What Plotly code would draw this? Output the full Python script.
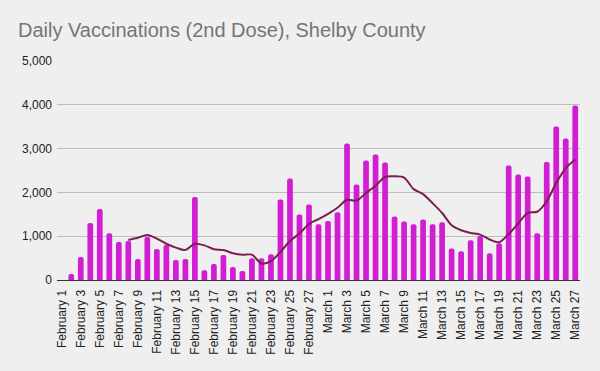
import plotly.graph_objects as go

# Categories (days)
dates = [f"February {d}" for d in range(1, 29)] + [f"March {d}" for d in range(1, 28)]

# Daily 2nd-dose vaccinations (Feb 1 has no bar)
daily_doses = [
    None, 137, 525, 1300, 1620, 1065, 867, 890, 479, 981,
    707, 798, 456, 479, 1894, 221, 365, 570, 297, 205,
    494, 494, 586, 1840, 2319, 1498, 1726, 1270,
    1346, 1544, 3118, 2183, 2730, 2867, 2684, 1452, 1338, 1270,
    1384, 1270, 1316, 722, 654, 905, 1004, 608, 837, 2616,
    2411, 2365, 1065, 2692, 3506, 3232, 3985,
]

# 7-day average trend line (starts Feb 8)
avg_line = [
    None, None, None, None, None, None, None, 915, 964, 1029,
    944, 827, 740, 684, 828, 791, 703, 683, 612, 576,
    578, 378, 430, 641, 890, 1062, 1279, 1390,
    1512, 1649, 1831, 1812, 1988, 2151, 2353, 2368, 2339, 2075,
    1960, 1752, 1530, 1250, 1136, 1074, 1036, 925, 863, 1049,
    1290, 1535, 1558, 1799, 2213, 2554, 2749,
]

tick_labels = dates[::2]
y_ticks = [0, 1000, 2000, 3000, 4000, 5000]

BG = "#efefef"
FONT = "Arial, Liberation Sans, sans-serif"

fig = go.Figure()
fig.add_trace(go.Bar(
    x=dates, y=daily_doses,
    marker=dict(color="#d11ed2", line=dict(width=0)),
    showlegend=False, hoverinfo="x+y",
))
fig.add_trace(go.Scatter(
    x=dates, y=avg_line, mode="lines",
    line=dict(color="#7a1f50", width=2, shape="spline", smoothing=0.8),
    connectgaps=False, showlegend=False,
))

fig.update_layout(
    width=600, height=371,
    paper_bgcolor=BG, plot_bgcolor=BG,
    margin=dict(l=57, r=20, t=61, b=91),
    bargap=0.4,
    barcornerradius=3,
    font=dict(family=FONT, size=12, color="#222222"),
    title=dict(
        text="Daily Vaccinations (2nd Dose), Shelby County",
        x=18 / 600, xref="container", xanchor="left",
        y=1 - 30 / 371, yref="container", yanchor="middle",
        font=dict(family=FONT, size=20, color="#757575"),
    ),
    xaxis=dict(
        type="category",
        tickmode="array", tickvals=tick_labels, ticktext=tick_labels,
        tickangle=-90,
        showgrid=False,
        showline=True, linecolor="#333333", linewidth=1.3,
        ticks="",
        ticklabelstandoff=4,
        tickfont=dict(family=FONT, size=12, color="#222222"),
        range=[-0.5, len(dates) - 0.5],
    ),
    yaxis=dict(
        range=[0, 5000],
        tickvals=y_ticks, tickformat=",",
        showgrid=True, gridcolor="#bdbdbd", gridwidth=1,
        zeroline=False,
        showline=False,
        ticks="",
        ticklabelstandoff=4,
        tickfont=dict(family=FONT, size=12, color="#222222"),
    ),
)

fig.write_html(
    "out.html",
    config={"displayModeBar": False},
    post_script="document.body.style.margin='0px';document.body.style.background='#efefef';",
)
